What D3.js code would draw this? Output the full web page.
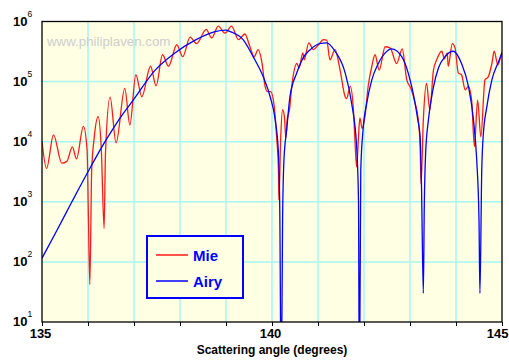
<!DOCTYPE html>
<html>
<head>
<meta charset="utf-8">
<script src="https://cdn.jsdelivr.net/npm/d3@7"></script>
<style>
  body { margin: 0; background: #fff; }
  svg { display: block; font-family: "Liberation Sans", Arial, sans-serif; }
</style>
</head>
<body>
<script>
// scattering angle (deg) and intensity for the Mie curve
const mieAngle = [135.00,135.10,135.25,135.43,135.54,135.66,135.75,135.90,135.98,136.01,
  136.04,136.08,136.13,136.22,136.29,136.35,136.38,136.48,136.61,136.80,
  136.91,137.04,137.17,137.36,137.48,137.62,137.75,137.93,138.06,138.22,
  138.36,138.57,138.69,138.83,138.98,139.12,139.27,139.41,139.52,139.61,
  139.70,139.78,139.85,139.90,139.97,140.05,140.10,140.14,140.15,140.19,
  140.23,140.27,140.30,140.33,140.38,140.43,140.54,140.59,140.67,140.70,
  140.80,140.90,141.01,141.12,141.19,141.26,141.37,141.48,141.59,141.62,
  141.70,141.77,141.80,141.84,141.88,141.91,141.96,142.02,142.09,142.17,
  142.24,142.33,142.46,142.57,142.71,142.83,142.93,143.02,143.11,143.18,
  143.22,143.24,143.29,143.36,143.43,143.51,143.58,143.69,143.75,143.81,
  143.83,143.92,143.98,144.05,144.12,144.20,144.27,144.34,144.40,144.47,
  144.54,144.63,144.70,144.78,144.83,144.91,144.98,145.00];
const mieValue = [1.0e4,3.6e3,1.3e4,4.4e3,4.7e3,8.2e3,5.2e3,1.8e4,7.3e3,500,
  42,3.4e3,1.07e4,2.6e4,7.3e3,360,6.4e3,5.5e4,9.6e3,7.7e4,
  1.9e4,1.3e5,5.6e4,1.8e5,8.5e4,2.8e5,1.8e5,4.1e5,2.6e5,5.5e5,
  4.3e5,7.4e5,5.3e5,8.4e5,6.4e5,8.4e5,5.0e5,6.2e5,3.8e5,2.6e5,
  3.4e5,2.1e5,8.3e4,6.8e4,6.8e4,3.8e4,1.2e4,3.4e3,1.07e3,1.2e4,
  3.4e4,2.6e4,1.15e4,2.3e4,3.4e4,8.3e4,2.0e5,1.7e5,3.0e5,2.3e5,
  4.4e5,3.4e5,4.1e5,5.0e5,4.9e5,2.3e5,3.4e5,1.55e5,5.6e4,5.2e4,
  8.3e4,3.4e4,1.2e4,3.8e3,1.2e4,2.5e4,1.65e4,2.6e4,8.3e4,1.8e5,
  2.8e5,1.55e5,3.8e5,3.6e5,2.0e5,3.5e5,1.07e5,7.7e4,4.4e4,2.3e4,
  8.3e3,2.0e3,2.3e4,9.3e4,3.4e4,1.55e5,2.3e5,3.2e5,2.4e5,3.0e5,
  1.8e5,4.3e5,3.6e5,1.4e5,1.3e5,7.3e4,8.3e4,4.9e4,8.3e3,4.9e4,
  1.2e4,1.07e5,1.2e5,2.0e5,3.2e5,1.9e5,2.8e5,3.1e5];

// Airy approximation
const airyAngle = [135.00,135.32,135.65,136.00,136.37,136.70,136.99,137.46,137.89,138.33,
  138.76,139.00,139.09,139.38,139.59,139.81,139.96,140.07,140.14,140.17,
  140.20,140.23,140.26,140.32,140.39,140.54,140.68,140.83,141.04,141.19,
  141.37,141.59,141.73,141.84,141.88,141.90,141.93,141.98,142.06,142.17,
  142.31,142.46,142.60,142.82,142.96,143.11,143.17,143.22,143.25,143.29,
  143.31,143.34,143.40,143.51,143.62,143.76,143.94,144.12,144.27,144.38,
  144.45,144.50,144.52,144.56,144.59,144.67,144.78,144.92,145.00];
const airyValue = [115,330,1000,3160,1.0e4,2.5e4,5.0e4,1.55e5,3.0e5,4.9e5,
  6.8e5,7.2e5,6.8e5,4.9e5,2.6e5,1.2e5,5.6e4,2.3e4,6.5e3,650,
  0.5,500,5.0e3,1.6e4,5.6e4,1.4e5,2.5e5,3.4e5,4.3e5,4.4e5,
  3.2e5,1.4e5,4.4e4,8.3e3,1.07e3,0.5,3.4e3,1.6e4,4.4e4,1.07e5,
  2.0e5,3.0e5,3.5e5,2.6e5,1.4e5,4.4e4,2.3e4,1.2e4,1.8e3,30,
  800,6.5e3,2.3e4,8.1e4,1.7e5,2.6e5,3.2e5,2.0e5,8.3e4,2.3e4,
  5.0e3,500,30,3.4e3,1.2e4,3.8e4,1.07e5,2.1e5,3.0e5];

const xTicks = [135,136,137,138,139,140,141,142,143,144,145];
const xTickLabels = [135,140,145];
const yExponents = [1,2,3,4,5,6];
const legendNames = ['Mie','Airy'];

const margin = {left: 42, top: 21.5};
const width = 460, height = 300.5;

const svg = d3.select('body').append('svg')
  .attr('width', 509).attr('height', 360);

const g = svg.append('g')
  .attr('transform', 'translate(' + margin.left + ',' + margin.top + ')');

const x = d3.scaleLinear().domain([135, 145]).range([0, width]);
const y = d3.scaleLog().domain([10, 1e6]).range([height, 0]);

g.append('rect').attr('width', width).attr('height', height).attr('fill', '#ffffe4');

// grid
g.append('g').selectAll('line').data(xTicks.slice(1, -1)).enter().append('line')
  .attr('x1', d => x(d)).attr('x2', d => x(d))
  .attr('y1', 0).attr('y2', height)
  .attr('stroke', '#a6f6f2').attr('stroke-width', 1.5);
g.append('g').selectAll('line').data(yExponents.slice(1, -1)).enter().append('line')
  .attr('x1', 0).attr('x2', width)
  .attr('y1', d => y(Math.pow(10, d))).attr('y2', d => y(Math.pow(10, d)))
  .attr('stroke', '#a6f6f2').attr('stroke-width', 1.5);

// watermark
g.append('text').attr('x', 5).attr('y', 24.5)
  .attr('font-size', '13.3px').attr('fill', '#cdcdcd')
  .text('www.philiplaven.com');

g.append('clipPath').attr('id', 'plotclip').append('rect')
  .attr('width', width).attr('height', height);

const line = d3.line()
  .x(d => x(d[0])).y(d => y(d[1]))
  .curve(d3.curveMonotoneX);

const plot = g.append('g').attr('clip-path', 'url(#plotclip)');
plot.append('path').datum(d3.zip(mieAngle, mieValue))
  .attr('d', line).attr('fill', 'none')
  .attr('stroke', '#ff1a1a').attr('stroke-width', 1.3);
plot.append('path').datum(d3.zip(airyAngle, airyValue))
  .attr('d', line).attr('fill', 'none')
  .attr('stroke', '#0000ff').attr('stroke-width', 1.3);

// frame
g.append('rect').attr('width', width).attr('height', height)
  .attr('fill', 'none').attr('stroke', '#000').attr('stroke-width', 1.3);

// x axis
const xAxis = g.append('g')
  .attr('transform', 'translate(0,' + height + ')')
  .call(d3.axisBottom(x).tickValues(xTicks).tickSize(4).tickPadding(3)
    .tickFormat(d => xTickLabels.includes(d) ? d : ''));
xAxis.select('.domain').remove();
xAxis.selectAll('text').attr('font-size', '13px').attr('font-weight', 'bold')
  .attr('fill', '#000').attr('font-family', '"Liberation Sans", Arial, sans-serif')
  .attr('dx', -2);
xAxis.selectAll('.tick').filter(d => d === 145).select('text')
  .attr('text-anchor', 'end').attr('dx', 6);

// y labels 10^n
const yLab = g.append('g').selectAll('text').data(yExponents).enter().append('text')
  .attr('x', -29).attr('y', d => y(Math.pow(10, d)) + 4)
  .attr('font-size', '13px').attr('font-weight', 'bold');
yLab.append('tspan').text('10');
yLab.append('tspan').attr('dy', -9).attr('font-size', '8.5px')
  .attr('font-weight', 'normal').text(d => d);

svg.append('text').attr('x', 272).attr('y', 354)
  .attr('text-anchor', 'middle').attr('font-size', '12px').attr('font-weight', 'bold')
  .text('Scattering angle (degrees)');

// legend
const legend = svg.append('g').attr('transform', 'translate(147,236)');
legend.append('rect').attr('width', 96).attr('height', 62)
  .attr('fill', '#ffffe4').attr('stroke', '#0000ff').attr('stroke-width', 2);
const legColor = ['#ff1a1a', '#0000ff'];
legendNames.forEach((name, i) => {
  legend.append('line').attr('x1', 9).attr('x2', 41)
    .attr('y1', 19 + i * 26).attr('y2', 19 + i * 26)
    .attr('stroke', legColor[i]).attr('stroke-width', 1.5);
  legend.append('text').attr('x', 46).attr('y', 25 + i * 26)
    .attr('font-size', '15px').attr('font-weight', 'bold').attr('fill', '#0000ff')
    .text(name);
});
</script>
</body>
</html>
